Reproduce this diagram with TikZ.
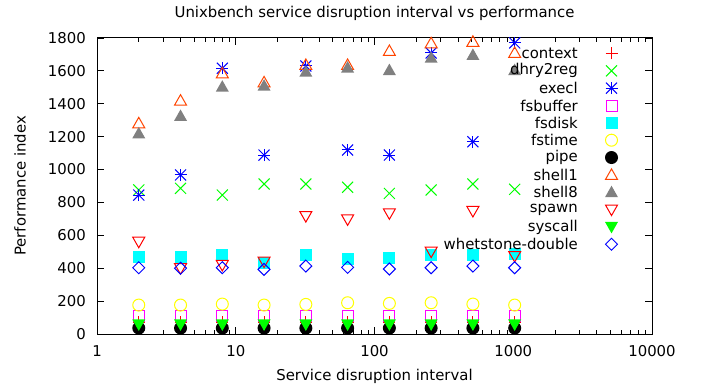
\documentclass[tikz,border=0pt]{standalone}
\usepackage{fontspec}
\setmainfont{DejaVu Sans}
\definecolor{cred}{RGB}{255,0,0}
\definecolor{cgreen}{RGB}{0,255,0}
\definecolor{cblue}{RGB}{0,0,255}
\definecolor{cmag}{RGB}{255,0,255}
\definecolor{ccyan}{RGB}{0,255,255}
\definecolor{cyel}{RGB}{255,255,0}
\definecolor{corange}{RGB}{255,69,0}
\definecolor{cgray}{RGB}{128,128,128}
\tikzset{mk/.style={line width=1pt}, lbl/.style={inner sep=0pt}}
\newcommand\mkplus[2]{\draw[#1,mk] (#2) +(-6pt,0) -- +(6pt,0) +(0,-6pt) -- +(0,6pt);}
\newcommand\mkcross[2]{\draw[#1,mk] (#2) +(-5.5pt,-5.5pt) -- +(5.5pt,5.5pt) +(-5.5pt,5.5pt) -- +(5.5pt,-5.5pt);}
\newcommand\mkstar[2]{\mkplus{#1}{#2}\mkcross{#1}{#2}}
\newcommand\mkbox[2]{\draw[#1,mk] (#2) +(-5.5pt,-5.5pt) rectangle +(5.5pt,5.5pt);}
\newcommand\mkfbox[2]{\fill[#1] (#2) +(-6pt,-6pt) rectangle +(6pt,6pt);}
\newcommand\mkcirc[2]{\draw[#1,mk] (#2) circle[radius=6pt];}
\newcommand\mkfcirc[2]{\fill[#1] (#2) circle[radius=6.5pt];}
\newcommand\mktri[2]{\draw[#1,mk] (#2) +(0,6pt) -- +(-6pt,-4.5pt) -- +(6pt,-4.5pt) -- cycle;}
\newcommand\mkftri[2]{\fill[#1] (#2) +(0,6.5pt) -- +(-6.5pt,-5pt) -- +(6.5pt,-5pt) -- cycle;}
\newcommand\mkdtri[2]{\draw[#1,mk] (#2) +(0,-6pt) -- +(-6pt,4.5pt) -- +(6pt,4.5pt) -- cycle;}
\newcommand\mkfdtri[2]{\fill[#1] (#2) +(0,-6.5pt) -- +(-6.5pt,5pt) -- +(6.5pt,5pt) -- cycle;}
\newcommand\mkdiam[2]{\draw[#1,mk] (#2) +(0,6pt) -- +(6pt,0) -- +(0,-6pt) -- +(-6pt,0) -- cycle;}
\newcommand\series[3]{\foreach \v [count=\i] in {#3} {#1{#2}{\i*0.30103,\v}}}
\newcommand\legentry[4]{%
  \pgfmathsetmacro\yy{391-53.5-(#1-1)*17.34}
  \node[lbl,anchor=east] (leg#1) at (578,\yy) {#2};
  \coordinate (sym#1) at (611.5,\yy);
  #3{#4}{sym#1}}
\begin{document}
\begin{tikzpicture}[x=1pt,y=1pt,font=\fontsize{14.9}{17}\selectfont]
\useasboundingbox[fill=white] (0,0) rectangle (706,391);
% title and axis labels
\node[lbl] (title) at (374.5,378) {Unixbench service disruption interval vs performance};
\node[lbl] (xlabel) at (374.5,15) {Service disruption interval};
\node[lbl,rotate=90] (ylabel) at (20,205) {Performance index};
% frame
\coordinate (ll) at (97,57);
\coordinate (ur) at (652,353);
% y ticks
\foreach \k in {0,...,9} {
  \pgfmathsetmacro\yy{57+\k*296/9}
  \pgfmathtruncatemacro\val{\k*200}
  \draw[line width=0.8pt] (97,\yy) -- (104,\yy);
  \draw[line width=0.8pt] (652,\yy) -- (645,\yy);
  \node[lbl,anchor=east] (yt\k) at (86,\yy) {\val};
}
% x ticks
\foreach \d/\t in {0/1,1/10,2/100,3/1000,4/10000} {
  \pgfmathsetmacro\xx{97+\d*138.75}
  \draw[line width=0.8pt] (\xx,57) -- (\xx,64);
  \draw[line width=0.8pt] (\xx,353) -- (\xx,346);
  \node[lbl] (xt\d) at (\xx,40) {\t};
}
\foreach \d in {0,1,2,3} {
  \foreach \m in {2,...,9} {
    \pgfmathsetmacro\xx{97+(\d+log10(\m))*138.75}
    \draw[line width=0.8pt] (\xx,57) -- (\xx,61);
    \draw[line width=0.8pt] (\xx,353) -- (\xx,349);
  }
}
\draw[line width=1pt] (ll) rectangle (ur);
% data
\begin{scope}[shift={(97pt,57pt)},x=138.75pt,y=0.1644444pt]
\series{\mkplus}{cred}{72,72,72,72,72,72,72,72,72,72}
\series{\mkcross}{cgreen}{876,886,845,912,912,892,855,876,912,880}
\series{\mkstar}{cblue}{845,967,1616,1088,1630,1119,1088,1709,1169,1770}
\series{\mkbox}{cmag}{109,109,109,111,109,109,109,109,109,109}
\series{\mkfbox}{ccyan}{470,466,480,430,480,456,460,480,480,486}
\series{\mkcirc}{cyel}{176,176,182,176,180,190,186,190,182,176}
\series{\mkfcirc}{black}{36,36,36,36,36,36,36,36,36,36}
\series{\mktri}{corange}{1281,1419,1585,1530,1636,1636,1721,1768,1777,1709}
\series{\mkftri}{cgray}{1220,1326,1504,1510,1595,1620,1605,1680,1697,1605}
\series{\mkdtri}{cred}{561,400,420,440,717,697,734,501,748,474}
\series{\mkfdtri}{cgreen}{58,58,58,58,58,58,58,58,58,58}
\series{\mkdiam}{cblue}{403,400,403,393,413,405,395,403,413,403}
\end{scope}
% legend
\legentry{1}{context}{\mkplus}{cred}
\legentry{2}{dhry2reg}{\mkcross}{cgreen}
\legentry{3}{execl}{\mkstar}{cblue}
\legentry{4}{fsbuffer}{\mkbox}{cmag}
\legentry{5}{fsdisk}{\mkfbox}{ccyan}
\legentry{6}{fstime}{\mkcirc}{cyel}
\legentry{7}{pipe}{\mkfcirc}{black}
\legentry{8}{shell1}{\mktri}{corange}
\legentry{9}{shell8}{\mkftri}{cgray}
\legentry{10}{spawn}{\mkdtri}{cred}
\legentry{11}{syscall}{\mkfdtri}{cgreen}
\legentry{12}{whetstone-double}{\mkdiam}{cblue}
\end{tikzpicture}
\end{document}
